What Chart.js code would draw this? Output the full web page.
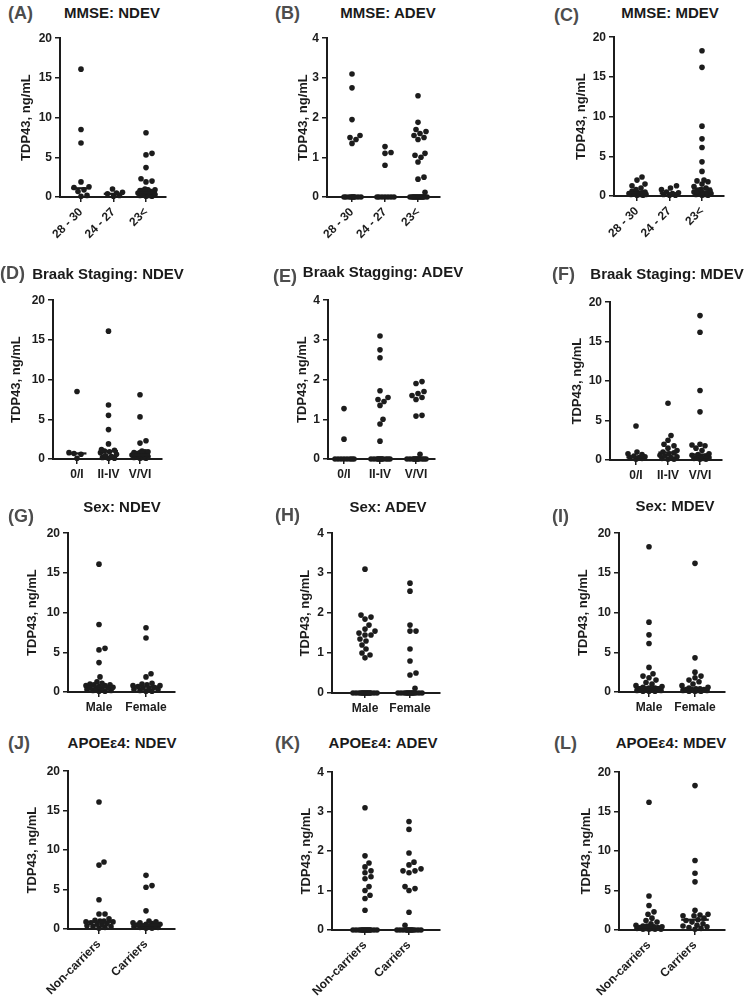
<!DOCTYPE html>
<html>
<head>
<meta charset="utf-8">
<script src="https://cdn.jsdelivr.net/npm/chart.js@4.4.1/dist/chart.umd.min.js"></script>
<style>
  body { margin: 0; background: #fff; }
  #wrap { position: relative; width: 747px; height: 1001px; overflow: hidden; font-family: 'Liberation Sans', Arial, sans-serif; }
  .letter { position: absolute; font-weight: bold; font-size: 18px; color: #4d4d4d; transform: translateY(-50%); white-space: nowrap; }
  .head { position: absolute; font-weight: bold; font-size: 15px; color: #1a1a1a; transform: translate(-50%, -50%); white-space: nowrap; }
  canvas { position: absolute; }
</style>
</head>
<body>
<div id="wrap"></div>
<script>
// category labels
const mmseCats  = ['28 - 30', '24 - 27', '23<'];
const braakCats = ['0/I', 'II-IV', 'V/VI'];
const sexCats   = ['Male', 'Female'];
const apoeCats  = ['Non-carriers', 'Carriers'];

// TDP43 (ng/mL), one list per category
const mmseNdev = [
  [16.1, 8.5, 6.8, 1.9, 1.3, 1.2, 0.9, 0.7, 0.2, 0.1],
  [1.0, 0.6, 0.5, 0.4, 0.2, 0.1],
  [8.1, 5.5, 5.3, 3.7, 2.3, 2.0, 1.9, 1.0, 0.9, 0.9, 0.8, 0.8, 0.7, 0.7, 0.6, 0.6, 0.6, 0.5, 0.5, 0.4, 0.4, 0.3, 0.3, 0.2, 0.2, 0.1, 0.1]
];
const mmseAdev = [
  [3.1, 2.75, 1.95, 1.55, 1.5, 1.45, 1.35, 0, 0, 0, 0, 0, 0, 0, 0, 0, 0],
  [1.27, 1.12, 1.1, 0.8, 0, 0, 0, 0, 0, 0, 0],
  [2.55, 1.88, 1.7, 1.65, 1.6, 1.55, 1.5, 1.45, 1.1, 1.05, 1.0, 0.88, 0.5, 0.45, 0.12, 0, 0, 0, 0, 0, 0, 0, 0, 0, 0, 0, 0, 0, 0, 0]
];
const mmseMdev = [
  [2.4, 2.0, 1.5, 1.3, 1.0, 0.8, 0.6, 0.5, 0.4, 0.4, 0.3, 0.3, 0.2, 0.2, 0.2, 0.1, 0.1],
  [1.3, 1.0, 0.8, 0.5, 0.4, 0.3, 0.2, 0.1, 0.1],
  [18.3, 16.2, 8.8, 7.2, 6.1, 4.3, 3.1, 2.0, 1.9, 1.8, 1.5, 1.2, 1.0, 0.8, 0.7, 0.6, 0.5, 0.4, 0.4, 0.3, 0.3, 0.2, 0.2, 0.1, 0.1]
];
const braakNdev = [
  [8.5, 0.8, 0.7, 0.6, 0.1],
  [16.1, 6.8, 5.5, 3.7, 1.9, 1.2, 1.1, 1.0, 0.9, 0.8, 0.6, 0.4, 0.3, 0.2, 0.1, 0.1],
  [8.1, 5.3, 2.3, 2.0, 1.0, 0.9, 0.9, 0.8, 0.8, 0.7, 0.6, 0.6, 0.5, 0.5, 0.5, 0.4, 0.4, 0.3, 0.3, 0.2, 0.2, 0.1, 0.1]
];
const braakAdev = [
  [1.27, 0.5, 0, 0, 0, 0, 0, 0, 0, 0],
  [3.1, 2.75, 2.55, 1.72, 1.55, 1.5, 1.45, 1.35, 1.0, 0.88, 0.45, 0, 0, 0, 0, 0, 0, 0, 0, 0, 0, 0, 0],
  [1.95, 1.9, 1.7, 1.65, 1.6, 1.55, 1.5, 1.1, 1.08, 0.12, 0, 0, 0, 0, 0, 0, 0, 0, 0, 0, 0, 0]
];
const braakMdev = [
  [4.3, 1.0, 0.8, 0.7, 0.5, 0.4, 0.3, 0.3, 0.2, 0.1],
  [7.2, 3.1, 2.5, 2.0, 1.8, 1.5, 1.2, 1.0, 0.9, 0.8, 0.6, 0.5, 0.4, 0.3, 0.2, 0.1, 0.1],
  [18.3, 16.2, 8.8, 6.1, 2.0, 1.9, 1.8, 1.5, 1.2, 0.8, 0.7, 0.6, 0.5, 0.4, 0.3, 0.3, 0.2, 0.2, 0.1, 0.1]
];
const sexNdev = [
  [16.1, 8.5, 5.5, 5.3, 3.7, 1.9, 1.3, 1.1, 1.0, 0.9, 0.9, 0.8, 0.8, 0.7, 0.6, 0.5, 0.5, 0.4, 0.4, 0.3, 0.2, 0.2, 0.1, 0.1],
  [8.1, 6.8, 2.3, 1.9, 1.1, 1.0, 0.9, 0.8, 0.8, 0.7, 0.6, 0.5, 0.4, 0.3, 0.3, 0.2, 0.1, 0.1]
];
const sexAdev = [
  [3.1, 1.95, 1.9, 1.85, 1.7, 1.6, 1.55, 1.5, 1.45, 1.45, 1.35, 1.3, 1.2, 1.1, 1.0, 0.95, 0.88, 0, 0, 0, 0, 0, 0, 0, 0, 0, 0, 0, 0, 0, 0, 0, 0],
  [2.75, 2.55, 1.7, 1.55, 1.55, 1.1, 0.8, 0.5, 0.45, 0.12, 0, 0, 0, 0, 0, 0, 0, 0, 0, 0, 0, 0, 0, 0, 0]
];
const sexMdev = [
  [18.3, 8.8, 7.2, 6.1, 3.1, 2.3, 2.0, 1.8, 1.5, 1.2, 1.0, 0.8, 0.7, 0.6, 0.5, 0.5, 0.4, 0.4, 0.3, 0.3, 0.2, 0.2, 0.1, 0.1, 0.1],
  [16.2, 4.3, 2.5, 2.0, 1.8, 1.5, 1.3, 1.0, 0.8, 0.6, 0.5, 0.4, 0.4, 0.3, 0.3, 0.3, 0.2, 0.2, 0.2, 0.1, 0.1, 0.1]
];
const apoeNdev = [
  [16.1, 8.5, 8.1, 3.7, 1.9, 1.9, 1.3, 1.1, 1.0, 1.0, 0.9, 0.9, 0.8, 0.7, 0.6, 0.5, 0.4, 0.3, 0.3, 0.2, 0.1],
  [6.8, 5.5, 5.3, 2.3, 1.0, 0.9, 0.8, 0.8, 0.7, 0.6, 0.6, 0.5, 0.4, 0.4, 0.3, 0.3, 0.2, 0.2, 0.1, 0.1]
];
const apoeAdev = [
  [3.1, 1.88, 1.7, 1.6, 1.5, 1.45, 1.35, 1.3, 1.1, 1.0, 0.88, 0.8, 0.5, 0, 0, 0, 0, 0, 0, 0, 0, 0, 0, 0, 0, 0, 0, 0, 0],
  [2.75, 2.55, 1.95, 1.72, 1.65, 1.55, 1.5, 1.5, 1.45, 1.1, 1.05, 1.0, 0.45, 0.12, 0, 0, 0, 0, 0, 0, 0, 0, 0, 0, 0, 0, 0, 0]
];
const apoeMdev = [
  [16.2, 4.3, 3.1, 2.3, 2.0, 1.5, 1.2, 1.0, 0.8, 0.6, 0.5, 0.5, 0.4, 0.4, 0.3, 0.3, 0.3, 0.2, 0.2, 0.2, 0.1, 0.1, 0.1, 0.1],
  [18.3, 8.8, 7.2, 6.1, 2.5, 2.0, 1.9, 1.8, 1.8, 1.5, 1.3, 1.2, 1.0, 0.8, 0.6, 0.5, 0.4, 0.3, 0.2, 0.1]
];

// median lines as drawn
const mmseNdevMed  = [1.1, 0.4, 0.6];
const mmseAdevMed  = [0, 0, 0];
const mmseMdevMed  = [0.4, 0.35, 0.95];
const braakNdevMed = [0.7, 1.0, 0.5];
const braakAdevMed = [0, 0, 0];
const braakMdevMed = [0.35, 0.95, 0.7];
const sexNdevMed   = [0.7, 0.7];
const sexAdevMed   = [0, 0];
const sexMdevMed   = [0.6, 0.35];
const apoeNdevMed  = [0.9, 0.5];
const apoeAdevMed  = [0, 0];
const apoeMdevMed  = [0.35, 1.3];

// box: [axis x, axis right, top px, zero px]; ticks: [first tick px, last tick px]
const panels = [
  { letter: '(A)', title: 'MMSE: NDEV', cats: mmseCats, data: mmseNdev, med: mmseNdevMed, ymax: 20, box: [60, 166, 37, 197], ticks: [81, 146], rot: true, lp: [8, 13], hp: [112, 12], yw: 41 },
  { letter: '(B)', title: 'MMSE: ADEV', cats: mmseCats, data: mmseAdev, med: mmseAdevMed, ymax: 4, box: [327, 440, 37, 197], ticks: [352, 418], rot: true, lp: [275, 13], hp: [388, 12], yw: 31 },
  { letter: '(C)', title: 'MMSE: MDEV', cats: mmseCats, data: mmseMdev, med: mmseMdevMed, ymax: 20, box: [614, 724, 36, 196], ticks: [637, 702], rot: true, lp: [554, 15], hp: [670, 12], yw: 40 },
  { letter: '(D)', title: 'Braak Staging: NDEV', cats: braakCats, data: braakNdev, med: braakNdevMed, ymax: 20, box: [53, 162, 299, 459], ticks: [77, 140], rot: false, lp: [0, 273], hp: [108, 273], yw: 44 },
  { letter: '(E)', title: 'Braak Stagging: ADEV', cats: braakCats, data: braakAdev, med: braakAdevMed, ymax: 4, box: [328, 435, 299, 459], ticks: [344, 416], rot: false, lp: [273, 276], hp: [383, 271], yw: 33 },
  { letter: '(F)', title: 'Braak Staging: MDEV', cats: braakCats, data: braakMdev, med: braakMdevMed, ymax: 20, box: [610, 722, 301, 460], ticks: [636, 700], rot: false, lp: [552, 274], hp: [667, 273], yw: 40 },
  { letter: '(G)', title: 'Sex: NDEV', cats: sexCats, data: sexNdev, med: sexNdevMed, ymax: 20, box: [68, 175, 532, 692], ticks: [99, 146], rot: false, lp: [8, 516], hp: [122, 506], yw: 43 },
  { letter: '(H)', title: 'Sex: ADEV', cats: sexCats, data: sexAdev, med: sexAdevMed, ymax: 4, box: [332, 440, 532, 693], ticks: [365, 410], rot: false, lp: [275, 515], hp: [388, 506], yw: 34 },
  { letter: '(I)', title: 'Sex: MDEV', cats: sexCats, data: sexMdev, med: sexMdevMed, ymax: 20, box: [619, 725, 532, 692], ticks: [649, 695], rot: false, lp: [552, 516], hp: [675, 505], yw: 43 },
  { letter: '(J)', title: 'APOEε4: NDEV', cats: apoeCats, data: apoeNdev, med: apoeNdevMed, ymax: 20, box: [68, 175, 770, 929], ticks: [99, 146], rot: true, lp: [8, 743], hp: [122, 742], yw: 43 },
  { letter: '(K)', title: 'APOEε4: ADEV', cats: apoeCats, data: apoeAdev, med: apoeAdevMed, ymax: 4, box: [332, 440, 771, 930], ticks: [365, 409], rot: true, lp: [275, 743], hp: [383, 742], yw: 33 },
  { letter: '(L)', title: 'APOEε4: MDEV', cats: apoeCats, data: apoeMdev, med: apoeMdevMed, ymax: 20, box: [619, 725, 771, 930], ticks: [649, 695], rot: true, lp: [554, 743], hp: [671, 742], yw: 40 }
];

const INK = '#1c1c1c';
const DOT_R = 2.8;
const PAD_TOP = 9, PAD_RIGHT = 6;

Chart.defaults.font.family = "'Liberation Sans', Arial, sans-serif";
Chart.defaults.color = INK;

// spread points of one category sideways so they don't sit on top of each other
function swarm(values, idx, pxX, pxY, maxPx) {
  const placed = [];
  return values.slice().sort((a, b) => a - b).map(v => {
    const yp = v * pxY;
    let best = 0, bestGap = -1;
    for (let k = 0; k <= 2 * maxPx; k++) {
      const off = (k % 2 ? 1 : -1) * Math.ceil(k / 2);
      let gap = Infinity;
      placed.forEach(q => { gap = Math.min(gap, Math.hypot(q.x - off, q.y - yp)); });
      if (gap >= 2 * DOT_R) { best = off; break; }
      if (gap > bestGap) { bestGap = gap; best = off; }
    }
    placed.push({ x: best, y: yp });
    return { x: idx + best / pxX, y: v };
  });
}

const wrap = document.getElementById('wrap');

function addText(cls, text, x, y) {
  const d = document.createElement('div');
  d.className = cls;
  d.textContent = text;
  d.style.left = x + 'px';
  d.style.top = y + 'px';
  wrap.appendChild(d);
}

panels.forEach(p => {
  const [ax, ar, at, ab] = p.box;
  const n = p.cats.length;
  const spacing = (p.ticks[1] - p.ticks[0]) / (n - 1);
  const xmin = -(p.ticks[0] - ax) / spacing;
  const xmax = n - 1 + (ar - p.ticks[1]) / spacing;
  const pxY = (ab - at) / p.ymax;
  const xh = p.rot ? 72 : 26;

  const canvas = document.createElement('canvas');
  const w = ar - ax + p.yw + PAD_RIGHT;
  const h = ab - at + PAD_TOP + xh;
  canvas.width = w; canvas.height = h;
  canvas.style.width = w + 'px'; canvas.style.height = h + 'px';
  canvas.style.left = (ax - p.yw) + 'px';
  canvas.style.top = (at - PAD_TOP) + 'px';
  wrap.appendChild(canvas);

  addText('letter', p.letter, p.lp[0], p.lp[1]);
  addText('head', p.title, p.hp[0], p.hp[1]);

  const points = [];
  p.data.forEach((vals, i) => points.push(...swarm(vals, i, spacing, pxY, spacing * 0.33 - 2)));

  const medSets = p.med.map((m, i) => ({
    type: 'line',
    data: [{ x: i - 0.3, y: m }, { x: i + 0.3, y: m }],
    showLine: true,
    borderColor: INK,
    borderWidth: 2.2,
    pointRadius: 0,
    clip: false,
    order: 0
  }));

  new Chart(canvas, {
    type: 'scatter',
    data: {
      datasets: [{
        data: points,
        pointRadius: DOT_R,
        pointBackgroundColor: INK,
        pointBorderWidth: 0,
        clip: false,
        order: 1
      }, ...medSets]
    },
    options: {
      responsive: false,
      animation: false,
      events: [],
      layout: { padding: { top: PAD_TOP, right: PAD_RIGHT, left: 0, bottom: 0 } },
      plugins: { legend: { display: false }, tooltip: { enabled: false } },
      scales: {
        x: {
          type: 'linear',
          min: xmin,
          max: xmax,
          afterBuildTicks: s => { s.ticks = p.cats.map((c, i) => ({ value: i })); },
          afterFit: s => { s.height = xh; },
          grid: { drawOnChartArea: false, drawTicks: true, tickLength: 5, color: INK, lineWidth: 1.5 },
          border: { display: true, color: INK, width: 2 },
          ticks: {
            autoSkip: false,
            padding: 3,
            minRotation: p.rot ? 45 : 0,
            maxRotation: p.rot ? 45 : 0,
            font: { size: 12, weight: 'bold' },
            color: INK,
            callback: v => p.cats[Math.round(v)]
          }
        },
        y: {
          min: 0,
          max: p.ymax,
          afterFit: s => { s.width = p.yw; },
          grid: { drawOnChartArea: false, drawTicks: true, tickLength: 5, color: INK, lineWidth: 1.5 },
          border: { display: true, color: INK, width: 2 },
          ticks: { stepSize: p.ymax / 4, padding: 3, font: { size: 12, weight: 'bold' }, color: INK },
          title: { display: true, text: 'TDP43, ng/mL', font: { size: 13, weight: 'bold' }, color: INK, padding: 0 }
        }
      }
    }
  });
});
</script>
</body>
</html>
